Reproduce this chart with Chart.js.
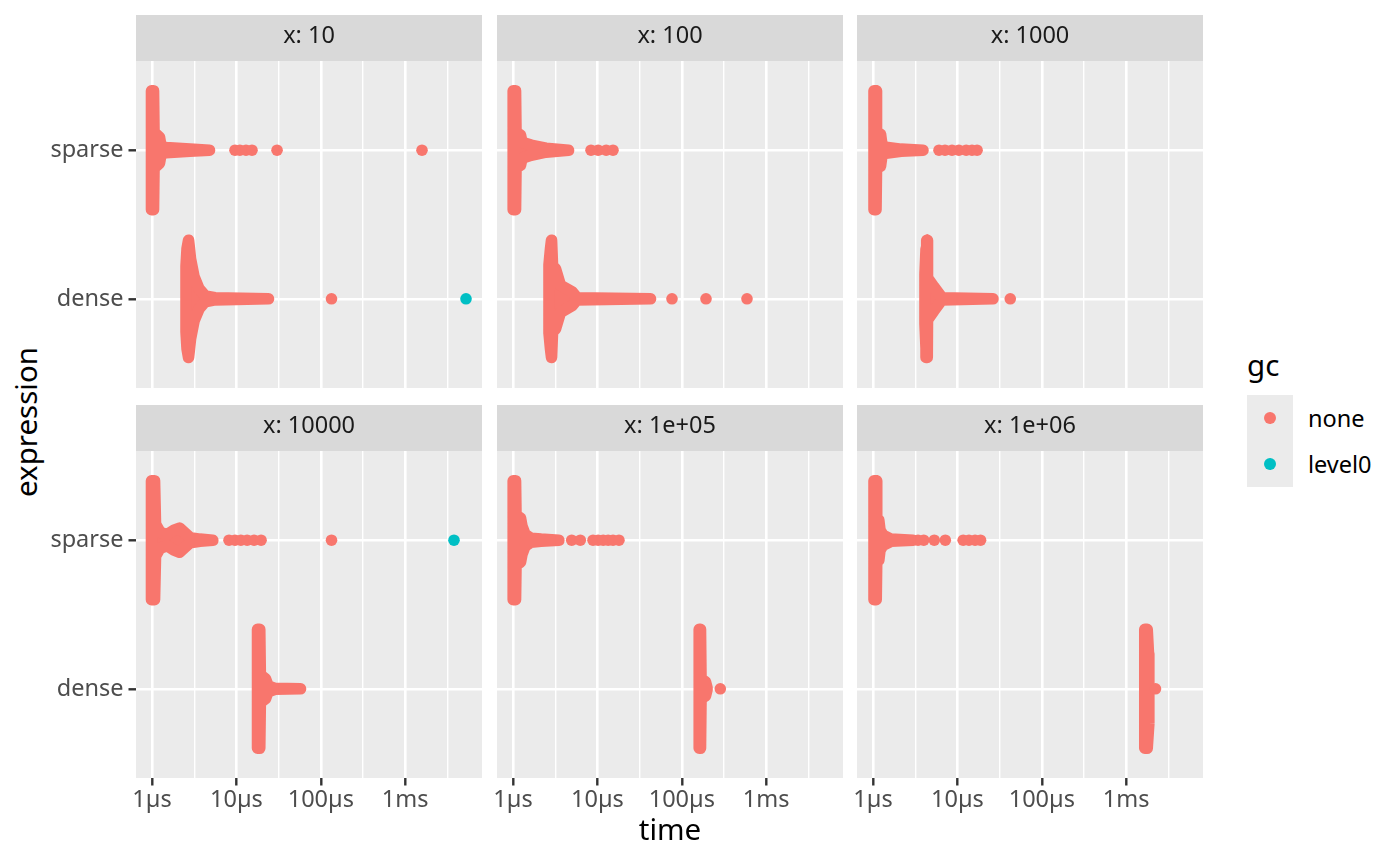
<!DOCTYPE html>
<html>
<head>
<meta charset="utf-8">
<script src="https://cdn.jsdelivr.net/npm/chart.js@4.4.1/dist/chart.umd.min.js"></script>
<style>
  body { margin: 0; width: 1400px; height: 865px; background: #fff; position: relative; overflow: hidden; font-family: 'Noto Sans', sans-serif; }
  canvas { position: absolute; }
  #ytitle { position: absolute; left: 25.5px; top: 421.5px; transform: translate(-50%, -50%) rotate(-90deg); font-size: 29.5px; line-height: 1; white-space: nowrap; color: #000; }
  .lg { position: absolute; white-space: nowrap; color: #000; }
</style>
</head>
<body>
<div id="ytitle">expression</div>
<div id="legend"></div>
<script>
// facets, categories, ticks
const facetLabels = ['x: 10', 'x: 100', 'x: 1000', 'x: 10000', 'x: 1e+05', 'x: 1e+06'];
const exprLabels = ['dense', 'sparse'];
const gcLevels = ['none', 'level0'];
const timeTicks = [1, 10, 100, 1000];            // µs
const timeTickLabels = ['1µs', '10µs', '100µs', '1ms'];
const minorTicks = [3.162, 31.62, 316.2, 3162];
const xMin = 0.646, xMax = 8128;

// swarm outlines: time (µs) and half spread of the swarm around its row
// x: 10
const sparse10Time   = [0.986, 1.042, 1.056, 1.227, 1.279, 1.466, 2.82, 4.80];
const sparse10Spread = [0.400, 0.400, 0.121, 0.087, 0.027, 0.017, 0.007, 0];
const sparse10None   = [9.62, 11.0, 13.0, 15.3, 30.3, 1581];
const dense10Time    = [2.53, 2.60, 2.71, 2.86, 3.15, 3.61, 4.25, 5.58, 24.0];
const dense10Spread  = [0.222, 0.336, 0.394, 0.269, 0.148, 0.067, 0.020, 0.007, 0];
const dense10None    = [133.9];
const dense10Level0  = [5253];

// x: 100
const sparse100Time   = [1.005, 1.071, 1.085, 1.227, 1.278, 1.634, 2.46, 4.55];
const sparse100Spread = [0.400, 0.400, 0.121, 0.101, 0.054, 0.034, 0.013, 0];
const sparse100None   = [8.40, 10.2, 12.7, 15.3];
const dense100Time    = [2.67, 2.78, 2.86, 2.94, 3.19, 3.65, 5.00, 5.73, 42.6];
const dense100Spread  = [0.229, 0.336, 0.394, 0.222, 0.202, 0.091, 0.047, 0.007, 0];
const dense100None    = [76.5, 193.5, 592];

// x: 1000
const sparse1000Time   = [1.028, 1.085, 1.100, 1.227, 1.278, 1.426, 2.15, 3.91];
const sparse1000Spread = [0.400, 0.400, 0.121, 0.108, 0.034, 0.020, 0.007, 0];
const sparse1000None   = [6.05, 7.13, 8.63, 10.4, 12.7, 14.9, 17.1];
const dense1000Time    = [4.13, 4.25, 4.33, 4.39, 4.42, 5.25, 6.05, 6.57, 26.4];
const dense1000Spread  = [0.168, 0.336, 0.394, 0.394, 0.141, 0.081, 0.034, 0.007, 0];
const dense1000None    = [42.3];

// x: 10000
const sparse10000Time   = [0.986, 1.071, 1.100, 1.244, 1.506, 1.823, 2.12, 2.39, 2.82, 3.70, 5.25];
const sparse10000Spread = [0.400, 0.400, 0.108, 0.054, 0.037, 0.067, 0.081, 0.054, 0.017, 0.007, 0];
const sparse10000None   = [8.17, 9.62, 11.3, 13.4, 16.2, 19.6, 133.9];
const sparse10000Level0 = [3785];
const dense10000Time    = [17.8, 18.9, 19.2, 22.1, 23.7, 28.7, 57.5];
const dense10000Spread  = [0.400, 0.400, 0.094, 0.067, 0.020, 0.003, 0];

// x: 1e+05
const sparse1e5Time   = [1.005, 1.071, 1.085, 1.227, 1.278, 1.387, 1.634, 2.15, 3.49];
const sparse1e5Spread = [0.400, 0.400, 0.168, 0.148, 0.094, 0.040, 0.013, 0.007, 0];
const sparse1e5None   = [4.96, 6.27, 8.87, 10.2, 11.7, 13.4, 15.3, 18.0];
const dense1e5Time    = [160.8, 166.5, 168.9, 190.9, 198.8];
const dense1e5Spread  = [0.400, 0.400, 0.067, 0.047, 0.007];
const dense1e5None    = [285.8];

// x: 1e+06
const sparse1e6Time   = [1.028, 1.091, 1.106, 1.171, 1.210, 1.314, 1.634, 2.98];
const sparse1e6Spread = [0.400, 0.400, 0.148, 0.135, 0.067, 0.034, 0.007, 0];
const sparse1e6None   = [3.41, 3.99, 5.32, 7.19, 11.7, 13.7, 16.2, 18.8];
const dense1e6Time    = [1661, 1773, 1837, 1862];
const dense1e6Spread  = [0.400, 0.400, 0.236, 0];
const dense1e6None    = [2223];

const RED = '#F8766D', TEAL = '#00BFC4';
const SPARSE = 2, DENSE = 1;

const panels = [
  { row: 0, col: 0, shapes: [[sparse10Time, sparse10Spread, SPARSE], [dense10Time, dense10Spread, DENSE]],
    none: [[sparse10None, SPARSE], [dense10None, DENSE]], level0: [[dense10Level0, DENSE]] },
  { row: 0, col: 1, shapes: [[sparse100Time, sparse100Spread, SPARSE], [dense100Time, dense100Spread, DENSE]],
    none: [[sparse100None, SPARSE], [dense100None, DENSE]], level0: [] },
  { row: 0, col: 2, shapes: [[sparse1000Time, sparse1000Spread, SPARSE], [dense1000Time, dense1000Spread, DENSE]],
    none: [[sparse1000None, SPARSE], [dense1000None, DENSE]], level0: [] },
  { row: 1, col: 0, shapes: [[sparse10000Time, sparse10000Spread, SPARSE], [dense10000Time, dense10000Spread, DENSE]],
    none: [[sparse10000None, SPARSE]], level0: [[sparse10000Level0, SPARSE]] },
  { row: 1, col: 1, shapes: [[sparse1e5Time, sparse1e5Spread, SPARSE], [dense1e5Time, dense1e5Spread, DENSE]],
    none: [[sparse1e5None, SPARSE], [dense1e5None, DENSE]], level0: [] },
  { row: 1, col: 2, shapes: [[sparse1e6Time, sparse1e6Spread, SPARSE], [dense1e6Time, dense1e6Spread, DENSE]],
    none: [[sparse1e6None, SPARSE], [dense1e6None, DENSE]], level0: [] }
];

// page layout
const panelLeft = [136, 497, 857];
const stripTop = [15, 405];
const AXIS_W = 136, PANEL_W = 346, STRIP_H = 46, PANEL_H = 327, AXIS_H = 87;

Chart.defaults.font.family = "'Noto Sans', sans-serif";

// outline of one swarm: upper edge left->right, lower edge back
function outline(times, spread, yc) {
  const up = times.map((t, i) => ({ x: t, y: yc + spread[i] }));
  const down = times.map((t, i) => ({ x: t, y: yc - spread[i] })).reverse();
  return up.concat(down, [up[0]]);
}

const panelBg = {
  id: 'panelBg',
  beforeDraw(chart) {
    const a = chart.chartArea, ctx = chart.ctx;
    ctx.save();
    ctx.fillStyle = '#EBEBEB';
    ctx.fillRect(a.left, a.top, a.right - a.left, a.bottom - a.top);
    ctx.restore();
  }
};

const isMajor = v => timeTicks.includes(v);
const clear = 'rgba(0,0,0,0)';

panels.forEach((p, k) => {
  const cv = document.createElement('canvas');
  cv.width = AXIS_W + PANEL_W;
  cv.height = STRIP_H + PANEL_H + AXIS_H;
  cv.style.left = (panelLeft[p.col] - AXIS_W) + 'px';
  cv.style.top = stripTop[p.row] + 'px';
  document.body.appendChild(cv);

  const datasets = [];
  p.level0.forEach(([times, yc]) => datasets.push({
    data: times.map(t => ({ x: t, y: yc })), showLine: false,
    pointRadius: 5.8, pointBorderWidth: 0, pointBackgroundColor: TEAL
  }));
  p.none.forEach(([times, yc]) => datasets.push({
    data: times.map(t => ({ x: t, y: yc })), showLine: false,
    pointRadius: 5.8, pointBorderWidth: 0, pointBackgroundColor: RED
  }));
  p.shapes.forEach(([times, spread, yc]) => datasets.push({
    data: outline(times, spread, yc), showLine: true, fill: 'shape',
    borderColor: RED, backgroundColor: RED, borderWidth: 11.6,
    borderJoinStyle: 'round', borderCapStyle: 'round', tension: 0, pointRadius: 0
  }));

  const bottom = p.row === 1;
  new Chart(cv, {
    type: 'line',
    data: { datasets },
    plugins: [panelBg],
    options: {
      responsive: false,
      animation: false,
      events: [],
      layout: { padding: 0, autoPadding: false },
      plugins: { legend: { display: false }, tooltip: { enabled: false } },
      scales: {
        x: {
          type: 'logarithmic', min: xMin, max: xMax, bounds: 'data',
          afterBuildTicks: s => { s.ticks = timeTicks.concat(minorTicks).sort((a, b) => a - b).map(v => ({ value: v })); },
          afterFit: s => { s.height = AXIS_H; },
          ticks: {
            display: bottom, autoSkip: false, maxRotation: 0, minRotation: 0, padding: 1,
            color: '#4D4D4D', font: { size: 23.5 },
            callback: v => { const i = timeTicks.indexOf(v); return i >= 0 ? timeTickLabels[i] : ''; }
          },
          grid: {
            color: '#FFFFFF',
            lineWidth: c => isMajor(c.tick.value) ? 2.6 : 1.4,
            tickLength: 7.5, tickWidth: 2.4,
            tickColor: c => (bottom && isMajor(c.tick.value)) ? '#333333' : clear
          },
          border: { display: false },
          title: {
            display: bottom && p.col === 1, text: 'time', color: '#000000',
            font: { size: 29.5 }, padding: { top: 0, bottom: 16 }
          }
        },
        y: {
          type: 'linear', min: 0.4, max: 2.6,
          afterBuildTicks: s => { s.ticks = exprLabels.map((_, i) => ({ value: i + 1 })); },
          afterFit: s => { s.width = AXIS_W; },
          ticks: {
            display: p.col === 0, padding: 5, color: '#4D4D4D', font: { size: 23.5 },
            callback: v => exprLabels[v - 1]
          },
          grid: {
            color: '#FFFFFF', lineWidth: 2.6, tickLength: 7.5, tickWidth: 2.4,
            tickColor: p.col === 0 ? '#333333' : clear
          },
          border: { display: false }
        },
        strip: {
          type: 'linear', position: 'top', axis: 'x',
          backgroundColor: '#D9D9D9',
          afterFit: s => { s.height = STRIP_H; },
          ticks: { display: false },
          grid: { display: false, drawTicks: false },
          border: { display: false },
          title: {
            display: true, text: facetLabels[k], color: '#1A1A1A',
            font: { size: 23.5 }, padding: { top: 7.5, bottom: 0 }
          }
        }
      }
    }
  });
});

// shared legend for gc
const gcColors = [RED, TEAL];
const legend = document.getElementById('legend');
function addDiv(css, text) {
  const d = document.createElement('div');
  d.className = 'lg';
  Object.assign(d.style, css);
  if (text) d.textContent = text;
  legend.appendChild(d);
}
addDiv({ left: '1247px', top: '342px', fontSize: '29.5px', lineHeight: '46px' }, 'gc');
addDiv({ left: '1247px', top: '395px', width: '46px', height: (46 * gcLevels.length) + 'px', background: '#EBEBEB' });
gcLevels.forEach((lv, i) => {
  addDiv({ left: '1264px', top: (395 + 46 * i + 17) + 'px', width: '12px', height: '12px', borderRadius: '50%', background: gcColors[i] });
  addDiv({ left: '1308px', top: (395 + 46 * i) + 'px', fontSize: '23.5px', lineHeight: '46px' }, lv);
});
</script>
</body>
</html>
